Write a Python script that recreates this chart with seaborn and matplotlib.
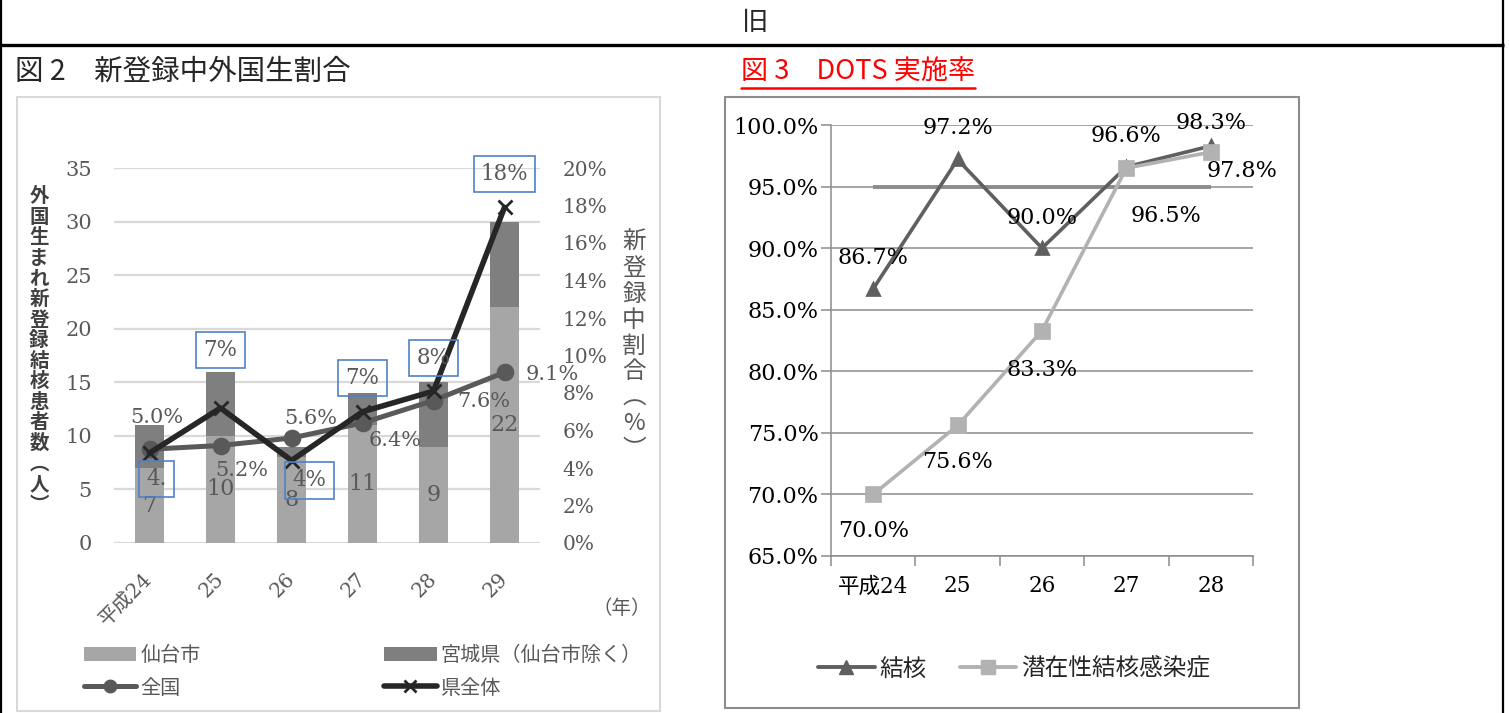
import numpy as np
import pandas as pd
import matplotlib
matplotlib.use("Agg")
import matplotlib.pyplot as plt
import seaborn as sns
from matplotlib.lines import Line2D
from matplotlib.patches import Rectangle, Patch
from matplotlib.ticker import FuncFormatter

# ---------------- data ----------------
years2 = ["平成24", "25", "26", "27", "28", "29"]
sendai_cases = [7, 10, 8, 11, 9, 22]
miyagi_other_cases = [4, 6, 1, 3, 6, 8]
national_share = [5.0, 5.2, 5.6, 6.4, 7.6, 9.1]
pref_share = [4.8, 7.2, 4.4, 7.0, 8.1, 17.9]
pref_share_labels = ["4.", "7%", "4%", "7%", "8%", "18%"]

years3 = ["平成24", "25", "26", "27", "28"]
tb_dots = [86.7, 97.2, 90.0, 96.6, 98.3]
ltbi_dots = [70.0, 75.6, 83.3, 96.5, 97.8]
dots_target = 95.0

# ---------------- style ----------------
W, H = 1509, 713
SERIF = ['DejaVu Serif', 'Noto Sans CJK JP']
SANS = ['Noto Sans CJK JP', 'DejaVu Sans']
sns.set_theme(style="white")
plt.rcParams['font.family'] = SERIF
plt.rcParams['axes.unicode_minus'] = False

fig = plt.figure(figsize=(W / 100, H / 100), dpi=100)
fig.patch.set_facecolor('white')


def rect(x0, y0, x1, y1):
    return [x0 / W, 1 - y1 / H, (x1 - x0) / W, (y1 - y0) / H]


def fline(xs, ys, lw, color):
    fig.add_artist(Line2D([x / W for x in xs], [1 - y / H for y in ys], lw=lw, color=color,
                          solid_capstyle='butt'))


# table borders
fline([0, 1504], [45, 45], 2.4, 'black')
fline([1, 1], [0, 713], 1.6, 'black')
fline([1503, 1503], [0, 713], 1.6, 'black')
fig.text(755 / W, 1 - 22 / H, "旧", family=SANS, fontsize=19, ha='center', va='center')

# chart frames
fig.add_artist(Rectangle((17 / W, 1 - 711 / H), (660 - 17) / W, (711 - 97) / H,
                         transform=fig.transFigure, fill=False, ec='#D9D9D9', lw=1.5))
fig.add_artist(Rectangle((725 / W, 1 - 708 / H), (1299 - 725) / W, (708 - 97) / H,
                         transform=fig.transFigure, fill=False, ec='#8C8C8C', lw=1.5))

# titles
fig.text(15 / W, 1 - 72 / H, "図 2　新登録中外国生割合", family=SANS, fontsize=20.5,
         ha='left', va='center')
t3 = fig.text(741 / W, 1 - 72 / H, "図 3　DOTS 実施率", family=SANS, fontsize=19.5,
              ha='left', va='center', color='#FF0000')

# ---------------- Figure 2 ----------------
GRAY_TXT = '#595959'
ax1 = fig.add_axes(rect(114, 168, 540, 543))
df2 = pd.DataFrame({'year': years2, 'sendai': sendai_cases, 'other': miyagi_other_cases})
df2['total'] = df2['sendai'] + df2['other']
sns.barplot(data=df2, x='year', y='total', order=years2, color='#7F7F7F', saturation=1,
            width=0.4, ax=ax1, zorder=2, linewidth=0, edgecolor='none')
sns.barplot(data=df2, x='year', y='sendai', order=years2, color='#A6A6A6', saturation=1,
            width=0.4, ax=ax1, zorder=2, linewidth=0, edgecolor='none')
ax1.bar_label(ax1.containers[1], labels=[str(v) for v in sendai_cases], label_type='center',
              fontsize=16, color=GRAY_TXT)
ax1.set_ylim(0, 35)
ax1.set_yticks(range(0, 36, 5))
ax1.yaxis.grid(True, color='#D9D9D9', lw=1.6, zorder=0)
ax1.set_axisbelow(True)
for s in ax1.spines.values():
    s.set_visible(False)
ax1.tick_params(axis='y', length=0, pad=16, labelsize=15, labelcolor=GRAY_TXT)
ax1.set_xlabel("")
ax1.set_ylabel("")

ax2 = ax1.twinx()
sns.pointplot(x=years2, y=national_share, order=years2, color='#595959', markers='o',
              linestyles='-', markersize=10, linewidth=3.6, errorbar=None, ax=ax2)
sns.pointplot(x=years2, y=pref_share, order=years2, color='#262626', markers='x',
              linestyles='-', markersize=10, linewidth=4, markeredgewidth=2,
              errorbar=None, ax=ax2)
ax2.set_ylim(0, 20)
ax2.set_yticks(range(0, 21, 2))
ax2.yaxis.set_major_formatter(FuncFormatter(lambda v, p: f"{v:.0f}%"))
ax2.tick_params(axis='y', length=0, pad=16, labelsize=14.5, labelcolor=GRAY_TXT)
for s in ax2.spines.values():
    s.set_visible(False)
ax2.set_xlabel("")
ax2.set_ylabel("")
ax2.grid(False)

ax1.set_xlim(-0.5, len(years2) - 0.5)
ax1.set_xticks(range(len(years2)))
ax1.set_xticklabels(years2, rotation=45, ha='right', va='center', rotation_mode='anchor',
                    fontsize=14.5, color=GRAY_TXT)
ax1.tick_params(axis='x', length=0, pad=24)

nat_off = [(7, 32), (21, -25), (19, 19), (33, -18), (50, -1), (48, -2)]
for i, (v, off) in enumerate(zip(national_share, nat_off)):
    ax2.annotate(f"{v:.1f}%", xy=(i, v), xytext=off, textcoords='offset pixels',
                 ha='center', va='center', fontsize=15, color=GRAY_TXT, zorder=6)
pref_off = [(7, -26), (0, 58), (18, -20), (0, 34), (0, 33), (0, 33)]
for i, (v, lab, off) in enumerate(zip(pref_share, pref_share_labels, pref_off)):
    ax2.annotate(lab, xy=(i, v), xytext=off, textcoords='offset pixels',
                 ha='center', va='center', fontsize=15.5, color=GRAY_TXT, zorder=6,
                 bbox=dict(boxstyle='square,pad=0.33', fc='none', ec='#4F81C4', lw=1.2))

fig.text(39 / W, 1 - 351 / H, "\n".join("外国生まれ新登録結核患者数︵人︶"), family=SANS,
         fontsize=14, fontweight='bold', color='#404040', ha='center', va='center',
         linespacing=1.1)
fig.text(634 / W, 1 - 346 / H, "\n".join("新登録中割合︵%︶"), family=SANS,
         fontsize=17, color=GRAY_TXT, ha='center', va='center', linespacing=1.16)
fig.text(622 / W, 1 - 609 / H, "（年）", family=SANS, fontsize=14, color=GRAY_TXT,
         ha='center', va='center')

h_sendai = Patch(facecolor='#A6A6A6', edgecolor='none')
h_other = Patch(facecolor='#7F7F7F', edgecolor='none')
h_nat = Line2D([], [], color='#595959', lw=3.6, marker='o', markersize=9)
h_pref = Line2D([], [], color='#262626', lw=4, marker='x', markersize=8, markeredgewidth=2)
leg1 = ax1.legend([h_sendai, h_nat, h_other, h_pref],
                  ["仙台市", "全国", "宮城県（仙台市除く）", "県全体"], ncol=2,
                  loc='center left', bbox_to_anchor=(66 / W, 1 - 672 / H),
                  bbox_transform=fig.transFigure, frameon=False,
                  prop={'family': SANS, 'size': 14.5}, labelcolor=GRAY_TXT,
                  handlelength=2.6, handletextpad=0.2, columnspacing=9.1,
                  labelspacing=0.55)

# ---------------- Figure 3 ----------------
AX_GRAY = '#8C8C8C'
ax3 = fig.add_axes(rect(831, 125, 1253, 556))
sns.pointplot(x=years3, y=tb_dots, order=years3, color='#5F5F5F', markers='^',
              linestyles='-', markersize=9, linewidth=2.6, errorbar=None, ax=ax3, zorder=4)
sns.pointplot(x=years3, y=ltbi_dots, order=years3, color='#B2B2B2', markers='s',
              linestyles='-', markersize=10, linewidth=2.6, errorbar=None, ax=ax3, zorder=5)
ax3.hlines(dots_target, 0, len(years3) - 1, color='#8C8C8C', lw=2.8, zorder=3)
ax3.set_ylim(65, 100)
ax3.set_yticks(range(65, 101, 5))
ax3.yaxis.set_major_formatter(FuncFormatter(lambda v, p: f"{v:.1f}%"))
ax3.yaxis.grid(True, color=AX_GRAY, lw=1.1)
ax3.set_axisbelow(True)
ax3.set_xlim(-0.5, len(years3) - 0.5)
ax3.set_xticks(range(len(years3)))
ax3.set_xticklabels(years3)
ax3.set_xticks(np.arange(-0.5, len(years3)), minor=True)
ax3.tick_params(axis='x', which='major', length=0, pad=14, labelsize=15.5, labelcolor='black')
ax3.tick_params(axis='x', which='minor', length=7, width=1.1, color=AX_GRAY, direction='out',
                bottom=True)
ax3.tick_params(axis='y', length=7, width=1.1, color=AX_GRAY, direction='out', left=True,
                pad=2, labelsize=16, labelcolor='black')
for k in ['top', 'right']:
    ax3.spines[k].set_visible(False)
for k in ['left', 'bottom']:
    ax3.spines[k].set_color(AX_GRAY)
    ax3.spines[k].set_linewidth(1.1)
ax3.set_xlabel("")
ax3.set_ylabel("")

tb_off = [(0, 31), (0, 31), (0, 30), (0, 31), (0, 23)]
for i, (v, off) in enumerate(zip(tb_dots, tb_off)):
    ax3.annotate(f"{v:.1f}%", xy=(i, v), xytext=off, textcoords='offset pixels',
                 ha='center', va='center', fontsize=16, color='black', zorder=6)
ltbi_off = [(0, -37), (0, -37), (0, -39), (40, -48), (31, -19)]
for i, (v, off) in enumerate(zip(ltbi_dots, ltbi_off)):
    ax3.annotate(f"{v:.1f}%", xy=(i, v), xytext=off, textcoords='offset pixels',
                 ha='center', va='center', fontsize=16, color='black', zorder=6)

h_tb = Line2D([], [], color='#5F5F5F', lw=2.8, marker='^', markersize=10)
h_ltbi = Line2D([], [], color='#B2B2B2', lw=2.8, marker='s', markersize=10)
ax3.legend([h_tb, h_ltbi], ["結核", "潜在性結核感染症"], ncol=2, loc='center',
           bbox_to_anchor=(1014 / W, 1 - 669 / H), bbox_transform=fig.transFigure,
           frameon=False, prop={'family': SANS, 'size': 17}, handlelength=2.4,
           handletextpad=0.2, columnspacing=1.4)

# underline of red title
fig.canvas.draw()
bb = t3.get_window_extent()
fig.add_artist(Line2D([bb.x0 / W, bb.x1 / W], [1 - 88 / H, 1 - 88 / H], lw=1.8,
                      color='#FF0000'))

fig.savefig("out.png", dpi=100, facecolor='white')
